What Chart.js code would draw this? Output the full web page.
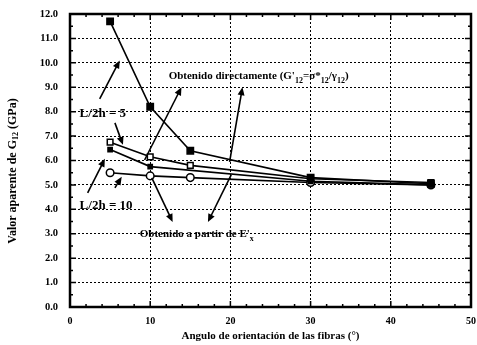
<!DOCTYPE html>
<html>
<head>
<meta charset="utf-8">
<script src="https://cdn.jsdelivr.net/npm/chart.js@4/dist/chart.umd.min.js"></script>
<style>
  html, body { margin: 0; padding: 0; background: #fff; }
  #wrap { width: 477px; height: 345px; }
</style>
</head>
<body>
<div id="wrap"><canvas id="chart" width="477" height="345"></canvas></div>
<script>
// angle of fibres (deg)
const angles = [5, 10, 15, 30, 45];
// apparent G12 (GPa) for each curve
const directo = [11.7, 8.2, 6.4, 5.3, 5.05];
const l2h5Open = [6.75, 6.15, 5.8, 5.25, 5.1];
const l2h5Fill = [6.45, 5.75, null, 5.15, 5.0];
const l2h10 = [5.5, 5.37, 5.3, 5.1, 5.0];

const xTicks = [0, 10, 20, 30, 40, 50];
const yTicks = [0, 1, 2, 3, 4, 5, 6, 7, 8, 9, 10, 11, 12];

// annotation arrows, in data units: [x0, y0, x1, y1] (head at x1,y1)
const arrows = [
    [9.3, 6.02, 13.9, 9.0],
    [19.9, 5.94, 21.5, 9.0],
    [10.2, 5.29, 12.8, 3.48],
    [20.1, 5.41, 17.2, 3.48],
    [3.7, 8.52, 6.2, 10.1],
    [5.6, 7.54, 6.6, 6.64],
    [2.2, 4.67, 4.35, 6.07],
    [5.6, 4.88, 6.45, 5.33]
];

const serif = '"Liberation Serif", "DejaVu Serif", serif';

function toPoints(ys) {
    return angles.map((x, i) => ({ x: x, y: ys[i] })).filter(p => p.y !== null);
}

function drawArrow(ctx, x0, y0, x1, y1) {
    const ang = Math.atan2(y1 - y0, x1 - x0);
    const len = 8, half = 3.5;
    ctx.beginPath();
    ctx.moveTo(x0, y0);
    ctx.lineTo(x1 - Math.cos(ang) * len * 0.7, y1 - Math.sin(ang) * len * 0.7);
    ctx.stroke();
    ctx.beginPath();
    ctx.moveTo(x1, y1);
    ctx.lineTo(x1 - Math.cos(ang) * len - Math.sin(ang) * half, y1 - Math.sin(ang) * len + Math.cos(ang) * half);
    ctx.lineTo(x1 - Math.cos(ang) * len + Math.sin(ang) * half, y1 - Math.sin(ang) * len - Math.cos(ang) * half);
    ctx.closePath();
    ctx.fill();
}

// draw text pieces: [text, dy, size]
function drawRich(ctx, x, y, parts) {
    let cx = x;
    parts.forEach(p => {
        ctx.font = 'bold ' + p[2] + 'px ' + serif;
        ctx.fillText(p[0], cx, y + p[1]);
        cx += ctx.measureText(p[0]).width;
    });
}

const framePlugin = {
    id: 'frame',
    afterDatasetsDraw(chart) {
        const ctx = chart.ctx;
        const a = chart.chartArea;
        const xs = chart.scales.x, ys = chart.scales.y;
        ctx.save();
        ctx.strokeStyle = '#000';
        ctx.fillStyle = '#000';

        // tick marks, inward on all four sides
        ctx.lineWidth = 1.5;
        for (let v = 0; v <= 50; v += 2) {
            const px = xs.getPixelForValue(v);
            const l = v % 10 === 0 ? 6 : 3;
            ctx.beginPath();
            ctx.moveTo(px, a.bottom); ctx.lineTo(px, a.bottom - l);
            ctx.moveTo(px, a.top); ctx.lineTo(px, a.top + l);
            ctx.stroke();
        }
        for (let v = 0; v <= 12; v += 0.5) {
            const py = ys.getPixelForValue(v);
            const l = v % 1 === 0 ? 6 : 3;
            ctx.beginPath();
            ctx.moveTo(a.left, py); ctx.lineTo(a.left + l, py);
            ctx.moveTo(a.right, py); ctx.lineTo(a.right - l, py);
            ctx.stroke();
        }
        ctx.lineWidth = 2.5;
        ctx.strokeRect(a.left, a.top, a.right - a.left, a.bottom - a.top);

        // arrows
        ctx.lineWidth = 1.6;
        arrows.forEach(r => {
            drawArrow(ctx, xs.getPixelForValue(r[0]), ys.getPixelForValue(r[1]),
                xs.getPixelForValue(r[2]), ys.getPixelForValue(r[3]));
        });

        // labels
        ctx.textBaseline = 'alphabetic';
        ctx.textAlign = 'left';
        drawRich(ctx, xs.getPixelForValue(12.3), ys.getPixelForValue(9.34), [
            ['Obtenido directamente (G\'', 0, 11], ['12', 4, 8], ['=σ*', 0, 11],
            ['12', 4, 8], ['/γ', 0, 11], ['12', 4, 8], [')', 0, 11]
        ]);
        drawRich(ctx, xs.getPixelForValue(8.7), ys.getPixelForValue(2.87), [
            ['Obtenido a partir de E\'', 0, 11], ['x', 4, 8]
        ]);
        drawRich(ctx, xs.getPixelForValue(1.2), ys.getPixelForValue(7.8), [
            ['L/2h = 5', 0, 13]
        ]);
        drawRich(ctx, xs.getPixelForValue(1.2), ys.getPixelForValue(4.0), [
            ['L/2h = 10', 0, 13]
        ]);

        // y axis title, drawn by hand so it can sit a bit low like the original
        ctx.save();
        ctx.translate(13, 171);
        ctx.rotate(-Math.PI / 2);
        ctx.textAlign = 'center';
        ctx.textBaseline = 'middle';
        const yt = [['Valor aparente de G', 0, 12], ['12', 3, 8], [' (GPa)', 0, 12]];
        let w = 0;
        yt.forEach(p => { ctx.font = 'bold ' + p[2] + 'px ' + serif; w += ctx.measureText(p[0]).width; });
        ctx.textAlign = 'left';
        drawRich(ctx, -w / 2, 0, yt);
        ctx.restore();

        ctx.restore();
    }
};

const lineBase = {
    showLine: true,
    borderColor: '#000',
    borderWidth: 1.6,
    pointBorderColor: '#000',
    pointBorderWidth: 1.5,
    spanGaps: true
};

new Chart(document.getElementById('chart'), {
    type: 'scatter',
    data: {
        datasets: [
            Object.assign({}, lineBase, {
                label: 'Obtenido directamente',
                data: toPoints(directo),
                pointStyle: 'rect', pointRadius: 4.5,
                pointBackgroundColor: '#000'
            }),
            Object.assign({}, lineBase, {
                label: 'L/2h = 5',
                data: toPoints(l2h5Open),
                pointStyle: 'rect', pointRadius: 4,
                pointBackgroundColor: '#fff'
            }),
            Object.assign({}, lineBase, {
                label: 'L/2h = 5 (E\'x)',
                data: toPoints(l2h5Fill),
                pointStyle: 'rect', pointRadius: 3,
                pointBackgroundColor: '#000'
            }),
            Object.assign({}, lineBase, {
                label: 'L/2h = 10',
                data: toPoints(l2h10),
                pointStyle: 'circle', pointRadius: 3.8,
                pointBackgroundColor: '#fff'
            })
        ]
    },
    options: {
        responsive: false,
        animation: false,
        events: [],
        layout: { padding: { top: 14, right: 5, left: 0, bottom: 0 } },
        plugins: {
            legend: { display: false },
            tooltip: { enabled: false }
        },
        scales: {
            x: {
                type: 'linear',
                min: 0, max: 50,
                afterFit(scale) {
                    scale.height = 38;
                    scale.paddingRight = 0;
                    scale.paddingLeft = 0;
                },
                afterBuildTicks(scale) { scale.ticks = xTicks.map(v => ({ value: v })); },
                grid: { color: '#000', lineWidth: 1, drawTicks: false },
                border: { display: false, dash: [2, 2] },
                ticks: {
                    color: '#000', padding: 8,
                    font: { family: serif, size: 10, weight: 'bold' }
                },
                title: {
                    display: true,
                    text: 'Angulo de orientación de las fibras (°)',
                    color: '#000',
                    font: { family: serif, size: 11, weight: 'bold' },
                    padding: { top: 0, bottom: 2 }
                }
            },
            y: {
                type: 'linear',
                min: 0, max: 12,
                afterFit(scale) {
                    scale.width = 70;
                    scale.paddingTop = 0;
                    scale.paddingBottom = 0;
                },
                afterBuildTicks(scale) { scale.ticks = yTicks.map(v => ({ value: v })); },
                grid: { color: '#000', lineWidth: 1, drawTicks: false },
                border: { display: false, dash: [2, 2] },
                ticks: {
                    color: '#000', padding: 12,
                    font: { family: serif, size: 10.5, weight: 'bold' },
                    callback: v => v.toFixed(1)
                },
                title: { display: false }
            }
        }
    },
    plugins: [framePlugin]
});
</script>
</body>
</html>
